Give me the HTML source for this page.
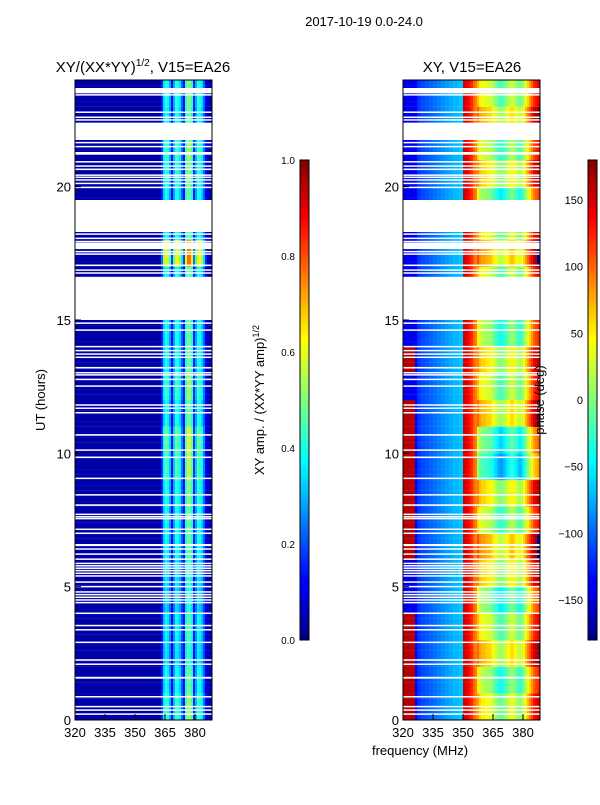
<!DOCTYPE html>
<html><head><meta charset="utf-8"><style>
body{margin:0;background:#fff;}
svg text{font-family:"Liberation Sans",sans-serif;fill:#000;}
</style></head><body>
<svg id="fig" width="600" height="800" xmlns="http://www.w3.org/2000/svg">
<defs>
<linearGradient id="jet" x1="0" y1="1" x2="0" y2="0">
<stop offset="0" stop-color="#00007f"/><stop offset="0.11" stop-color="#0000ff"/><stop offset="0.125" stop-color="#0000ff"/>
<stop offset="0.34" stop-color="#00dfff"/><stop offset="0.375" stop-color="#00ffff"/><stop offset="0.5" stop-color="#7fff7f"/>
<stop offset="0.625" stop-color="#ffff00"/><stop offset="0.66" stop-color="#ffdf00"/><stop offset="0.875" stop-color="#ff0000"/><stop offset="1" stop-color="#7f0000"/>
</linearGradient>
</defs>
<text x="364" y="26" font-size="13" text-anchor="middle">2017-10-19 0.0-24.0</text>
<text x="143" y="72" font-size="15" text-anchor="middle">XY/(XX*YY)<tspan font-size="10" dy="-6">1/2</tspan><tspan dy="6">, V15=EA26</tspan></text>
<text x="472" y="72" font-size="15" text-anchor="middle">XY, V15=EA26</text>
<g id="left"></g>
<g id="right"></g>
<g id="axes"></g>
<rect x="300" y="160" width="9" height="480" fill="url(#jet)" stroke="#000" stroke-width="1"/>
<rect x="588" y="160" width="9" height="480" fill="url(#jet)" stroke="#000" stroke-width="1"/>
<text transform="translate(45,400) rotate(-90)" font-size="13" text-anchor="middle">UT (hours)</text>
<text transform="translate(264,400) rotate(-90)" font-size="13" text-anchor="middle">XY amp. / (XX*YY amp)<tspan font-size="9" dy="-5">1/2</tspan></text>
<text transform="translate(544,400) rotate(-90)" font-size="13" text-anchor="middle">phase (deg)</text>
<text x="420" y="755" font-size="13" text-anchor="middle">frequency (MHz)</text>
</svg>
<script>
const NS="http://www.w3.org/2000/svg";
const freqs=[];for(let f=320;f<=388;f++)freqs.push(f);
const colAmp=[0.04,0.04,0.04,0.04,0.04,0.04,0.04,0.04,0.04,0.04,0.04,0.04,0.04,0.04,0.04,0.04,0.04,0.04,0.04,0.04,0.04,0.04,0.04,0.04,0.04,0.04,0.04,0.04,0.04,0.04,0.04,0.04,0.04,0.04,0.04,0.04,0.04,0.04,0.04,0.04,0.04,0.04,0.05,
0.15,0.33,0.4,0.36,0.28,0.12,0.28,0.4,0.38,0.33,0.22,0.12,0.4,0.48,0.48,0.4,0.15,0.28,0.4,0.38,0.33,0.22,0.1,0.06,0.05,0.05];
const rowGain=[1.1,1.0,0.9,0.95,0.85,0.9,1.0,1.0,1.05,1.15,1.2,1.0,1.1,1.0,1.0,1,1,1.6,1,1,1.05,1.1,1,1.05];
const colPhase=[-140,-140,-140,-140,-140,-140,-135,-120,-115,-110,-110,-105,-105,-100,-100,-95,-95,-90,-90,-85,-85,-80,-80,-75,-75,-70,-70,-70,-65,-65,
150,150,140,130,120,100,90,70,50,40,40,35,30,30,20,10,0,-10,-20,-20,-10,0,10,20,30,20,10,0,-10,0,20,40,60,80,100,120,130,140,150];
const rowShift=[10,-20,30,0,-30,20,40,-10,20,-60,-40,30,0,20,-20,0,0,40,10,-30,20,-10,30,0];
const lowRed=[1,1,1,1,0,0,1,1,1,1,1,1,0,1,0,0,0,0,0,0,0,0,0,0];
const blanks=[[15.0,16.62],[18.3,19.5],[21.75,22.4],[23.5,23.7],[17.66,17.9],
[23.43,23.47],[22.78,22.82],[22.6,22.63],[22.5,22.53],[21.65,21.68],[21.5,21.53],[21.2,21.3],[20.93,20.96],[20.77,20.8],[20.65,20.68],[20.43,20.46],[20.35,20.38],[20.25,20.28],[20.12,20.15],[19.97,20.0],
[18.22,18.25],[18.06,18.09],[17.94,17.97],[17.56,17.59],[17.47,17.5],[17.05,17.08],[16.87,16.9],[16.76,16.79],
[14.88,14.91],[14.62,14.65],[14.0,14.03],[13.85,13.88],[13.72,13.75],[13.6,13.63],[13.18,13.24],[13.02,13.05],[12.94,12.97],[12.77,12.8],[12.52,12.55],
[11.81,11.84],[11.69,11.72],[11.52,11.55],[10.66,10.72],[10.12,10.15],[9.85,9.88],[9.06,9.09],[8.44,8.47],[8.03,8.09],[7.71,7.74],[7.62,7.65],[7.55,7.58],[7.15,7.18],[7.0,7.03],
[6.52,6.6],[6.41,6.44],[6.22,6.25],[6.03,6.06],[5.87,5.9],[5.78,5.81],[5.69,5.72],[5.6,5.63],[5.5,5.53],[5.4,5.43],[5.17,5.2],[5.0,5.03],
[4.8,4.83],[4.7,4.73],[4.6,4.63],[4.5,4.53],[4.4,4.43],[4.0,4.03],[3.54,3.57],[3.38,3.41],[2.91,2.94],[2.22,2.28],[2.09,2.12],[1.55,1.62],[0.87,0.9],[0.5,0.53],[0.37,0.4],[0.22,0.25]];
const ampTicks=[0.0,0.2,0.4,0.6,0.8,1.0];
const phaseTicks=[-150,-100,-50,0,50,100,150];
const xTicks=[320,335,350,365,380];
const yTicks=[0,5,10,15,20];

const yS=h=>720-h*(640/24);
const xL=f=>75+(f-320)*2;
const xR=f=>403+(f-320)*2;
function jet(v){v=Math.max(0,Math.min(1,v));
 const r=Math.max(0,Math.min(1,1.5-Math.abs(4*v-3))),g=Math.max(0,Math.min(1,1.5-Math.abs(4*v-2))),b=Math.max(0,Math.min(1,1.5-Math.abs(4*v-1)));
 return `rgb(${Math.round(r*255)},${Math.round(g*255)},${Math.round(b*255)})`;}
const NR=120,dh=24/NR;
const L=document.getElementById('left'),R=document.getElementById('right');
for(let k=0;k<NR;k++){
 const h=k*dh;
 const hi=Math.floor(h+1e-9);
 const y0=yS(h+dh),y1=yS(h);
 for(let i=0;i<freqs.length;i++){
  const f=freqs[i];
  const amp=Math.min(1,colAmp[i]*(f>=363&&f<=385?rowGain[hi]:1));
  let r=document.createElementNS(NS,'rect');
  
  
  r.setAttribute('x',xL(f));r.setAttribute('y',y0);r.setAttribute('width',f===388?1:2.05);r.setAttribute('height',y1-y0+0.1);
  r.setAttribute('fill',jet(amp));L.appendChild(r);
  let ph=colPhase[i]+(f>=357?rowShift[hi]:0);
  if(f<326&&lowRed[hi])ph=160;
  ph=((ph+180)%360+360)%360-180;
  r=document.createElementNS(NS,'rect');
  
  
  r.setAttribute('x',xR(f));r.setAttribute('y',y0);r.setAttribute('width',f===388?1:2.05);r.setAttribute('height',y1-y0+0.1);
  r.setAttribute('fill',jet((ph+180)/360));R.appendChild(r);
 }
}
for(const b of blanks){
 for(const [g,x0] of [[L,75],[R,403]]){
  const r=document.createElementNS(NS,'rect');
  
  
  const yt=yS(b[1]),yb=yS(b[0]);
  r.setAttribute('x',x0);r.setAttribute('y',yt);r.setAttribute('width',137);r.setAttribute('height',Math.max(1.5,yb-yt));
  r.setAttribute('fill','#fff');g.appendChild(r);
 }
}
const A=document.getElementById('axes');
function el(tag,attrs,txt){const e=document.createElementNS(NS,tag);for(const k in attrs)e.setAttribute(k,attrs[k]);if(txt!==undefined)e.textContent=txt;A.appendChild(e);return e;}
for(const x0 of [75,403]){
 const fr=el('rect',{x:x0,y:80,width:137,height:640,fill:'none',stroke:'#000','stroke-width':1});
 
 
 for(const t of xTicks){const x=x0+(t-320)*2;
  const l=el('line',{x1:x,x2:x,y1:720,y2:714,stroke:'#000'});
  
  
  const tx=el('text',{x:x,y:737,'font-size':13,'text-anchor':'middle'},t);
  
  }
 for(const t of yTicks){const y=yS(t);
  const l=el('line',{x1:x0,x2:x0+6,y1:y,y2:y,stroke:'#000'});
  
  
  const tx=el('text',{x:x0-4,y:y+5,'font-size':13,'text-anchor':'end'},t);
  
  }
}
for(const t of ampTicks){const y=640-t*480;
 const tx=el('text',{x:295,y:y+4,'font-size':10,'text-anchor':'end'},t.toFixed(1));
 
 }
for(const t of phaseTicks){const y=400-t*(480/360);
 const tx=el('text',{x:583,y:y+4,'font-size':11,'text-anchor':'end'},t<0?'\u2212'+(-t):t);
 
 }
</script>
</body></html>
